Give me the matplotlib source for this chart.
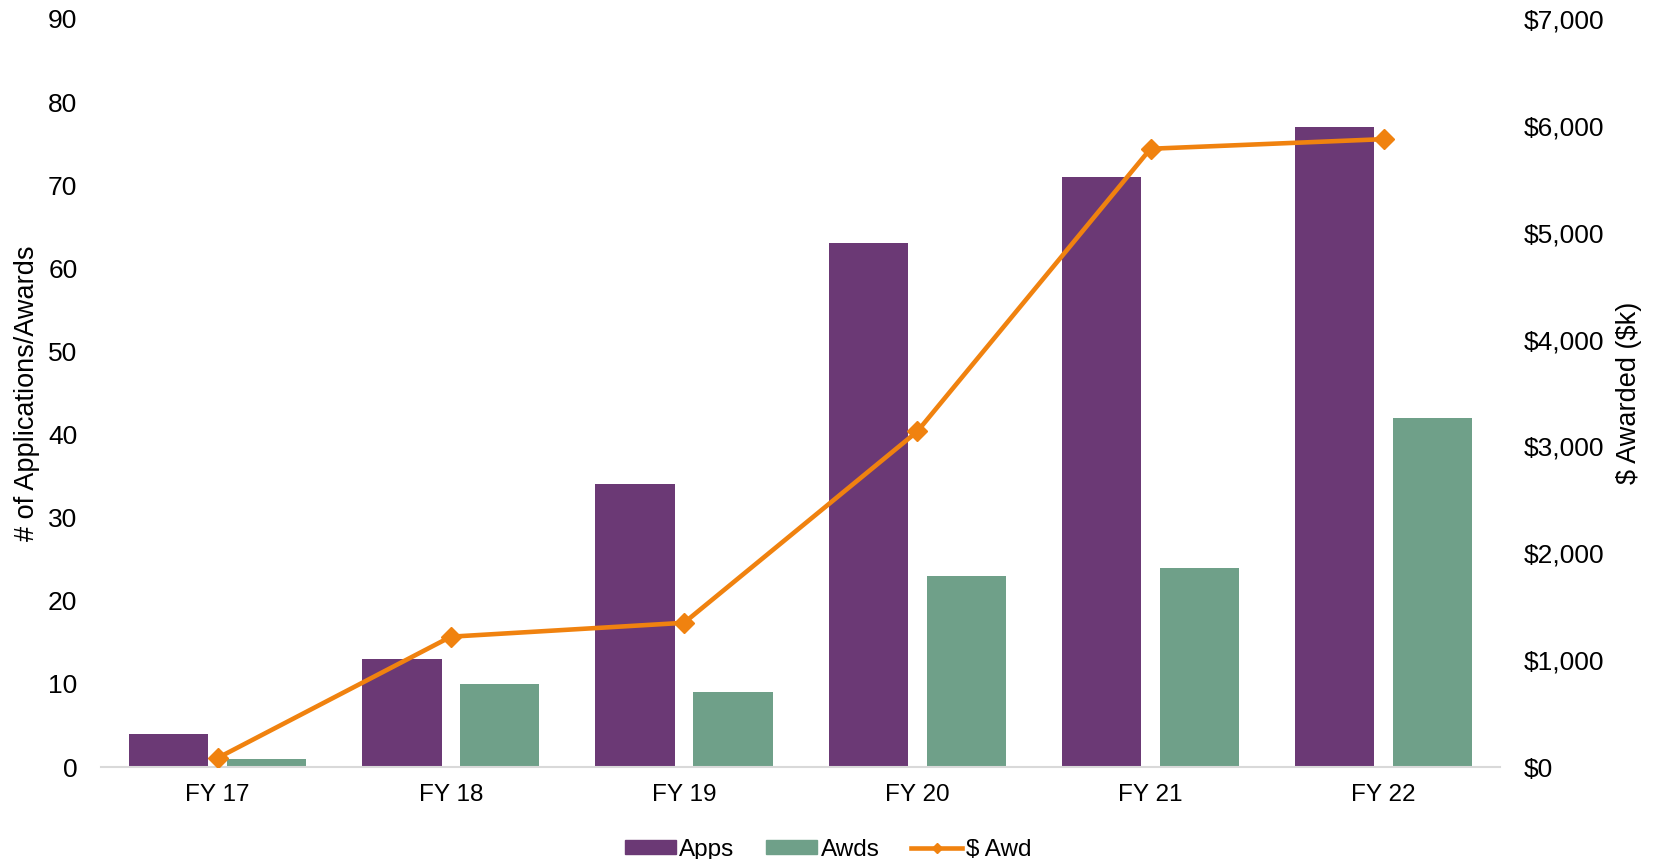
import numpy as np
import matplotlib.pyplot as plt
from matplotlib.patches import Patch
from matplotlib.lines import Line2D

plt.rcParams['font.family'] = ['Liberation Sans', 'DejaVu Sans']

# Daten
years = ["FY 17", "FY 18", "FY 19", "FY 20", "FY 21", "FY 22"]
apps = [4, 13, 34, 63, 71, 77]
awds = [1, 10, 9, 23, 24, 42]
dollars_k = [85, 1220, 1350, 3140, 5785, 5875]

purple = "#6B3975"
green = "#6FA089"
orange = "#F0820F"

fig = plt.figure(figsize=(16.56, 8.59), dpi=100)
ax = fig.add_axes([0.061, 0.107, 0.845, 0.871])
ax2 = ax.twinx()

x = np.arange(len(years))
w = 0.34
ax.bar(x - 0.21, apps, w, color=purple, zorder=2)
ax.bar(x + 0.21, awds, w, color=green, zorder=2)

ax2.plot(x, dollars_k, color=orange, lw=3.3, marker="D", ms=10, zorder=3)

ax.set_xlim(-0.5, len(years) - 0.5)
ax.set_ylim(0, 90)
ax.set_yticks(np.arange(0, 91, 10))
ax2.set_ylim(0, 7000)
ax2.set_yticks(np.arange(0, 7001, 1000))
ax2.set_yticklabels(["\\${:,}".format(v) for v in range(0, 7001, 1000)])

ax.set_xticks(x)
ax.set_xticklabels(years)

for a in (ax, ax2):
    for s in a.spines.values():
        s.set_visible(False)
    a.tick_params(length=0, labelsize=19, colors="black")
ax.spines["bottom"].set_visible(True)
ax.spines["bottom"].set_color("#D9D9D9")
ax.spines["bottom"].set_linewidth(1.5)
ax.tick_params(axis="y", pad=17)
ax2.tick_params(axis="y", pad=17)
ax.tick_params(axis="x", labelsize=17.5, pad=12)

ax.set_ylabel("# of Applications/Awards", fontsize=19.5, labelpad=6)
ax2.set_ylabel("\\$ Awarded (\\$k)", fontsize=19.5, labelpad=8)

ax.set_zorder(ax2.get_zorder() - 1)
ax.patch.set_visible(False)

handles = [Patch(color=purple), Patch(color=green),
           Line2D([], [], color=orange, lw=3.3, marker="D", ms=5)]
fig.legend(handles, ["Apps", "Awds", "\\$ Awd"], loc="center",
           bbox_to_anchor=(0.5, 0.011), ncol=3, frameon=False, fontsize=17.5,
           handlelength=2.1, handleheight=0.55, handletextpad=0.15, columnspacing=1.3)

fig.savefig("out.png", dpi=100)
